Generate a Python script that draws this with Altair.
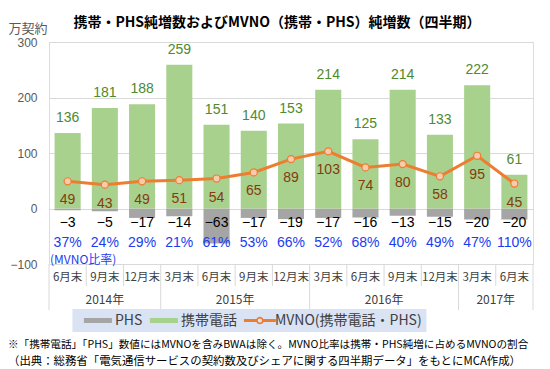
import altair as alt
import pandas as pd

# ---------------- data ----------------
months = ["6月末", "9月末", "12月末", "3月末", "6月末", "9月末", "12月末",
          "3月末", "6月末", "9月末", "12月末", "3月末", "6月末"]
years = ["2014年"] * 3 + ["2015年"] * 4 + ["2016年"] * 4 + ["2017年"] * 2
mobile = [136, 181, 188, 259, 151, 140, 153, 214, 125, 214, 133, 222, 61]
phs = [-3, -5, -17, -14, -63, -17, -19, -17, -16, -13, -15, -20, -20]
mvno = [49, 43, 49, 51, 54, 65, 89, 103, 74, 80, 58, 95, 45]
ratio = ["37%", "24%", "29%", "21%", "61%", "53%", "66%", "52%", "68%",
         "40%", "49%", "47%", "110%"]
y_ticks = [-100, 0, 100, 200, 300]

SER_PHS = "PHS"
SER_MOB = "携帯電話"
SER_MVNO = "MVNO(携帯電話・PHS)"
series_names = [SER_PHS, SER_MOB, SER_MVNO]
series_colors = ["#a5a5a5", "#a9d18e", "#ed7d31"]

title_text = "携帯・PHS純増数およびMVNO（携帯・PHS）純増数（四半期）"
unit_text = "万契約"
ratio_caption = ["(MVNO比率)"]
notes = [
    "※「携帯電話」「PHS」数値にはMVNOを含みBWAは除く。MVNO比率は携帯・PHS純増に占めるMVNOの割合",
    "（出典：総務省「電気通信サービスの契約数及びシェアに関する四半期データ」をもとにMCA作成）",
]

n = len(months)
df = pd.DataFrame({
    "i": list(range(n)), "month": months, "year": years,
    "mob": mobile, "phs": phs, "mvno": mvno, "ratio": ratio,
})

bounds = []
for b in range(n + 1):
    is_year = b == 0 or b == n or years[b] != years[b - 1]
    bounds.append({"b": b, "kind": "year" if is_year else "month"})
bdf = pd.DataFrame(bounds)
note_df = pd.DataFrame({"t": notes, "k": list(range(len(notes)))})
cap_df = pd.DataFrame({"t": ratio_caption})
leg_df = pd.DataFrame({"series": series_names, "v": [0] * len(series_names)})

JP = "Noto Sans CJK JP"
NUM = "Liberation Sans"
GRID = "#d9d9d9"

xs = alt.Scale(domain=[0, n], nice=False, zero=False)
ys = alt.Scale(domain=[y_ticks[0], y_ticks[-1]], nice=False, zero=False)
y_axis = alt.Axis(
    values=y_ticks, grid=True, gridColor=GRID, domain=False, ticks=False,
    labelFont=NUM, labelFontSize=12, labelColor="#595959", labelPadding=12,
    title=unit_text, titleAngle=0, titleAlign="left", titleBaseline="middle",
    titleX=-41, titleY=-14, titleFont=JP, titleFontSize=13,
    titleFontWeight="normal", titleColor="#595959")


def X(f):
    return alt.X(f, type="quantitative", scale=xs, axis=None)


def Y(f):
    return alt.Y(f, type="quantitative", scale=ys, axis=y_axis)


base = alt.Chart(df).transform_calculate(
    x0="datum.i + 0.15", x1="datum.i + 0.85", xc="datum.i + 0.5"
)

# legend symbol shapes (unit = 7px): thick bar, and line with ring marker
rect_path = "M0,-0.36H4V0.36H0Z"
cx, ro, ri, end = 2.286, 0.55, 0.3, 4.57
ring_path = (
    f"M0,-0.2H{cx - ro + 0.05}V0.2H0Z"
    f"M{cx + ro - 0.05},-0.2H{end}V0.2H{cx + ro - 0.05}Z"
    f"M{cx + ro},0A{ro},{ro} 0 1 1 {cx - ro},0A{ro},{ro} 0 1 1 {cx + ro},0Z"
    f"M{cx + ri},0A{ri},{ri} 0 1 0 {cx - ri},0A{ri},{ri} 0 1 0 {cx + ri},0Z"
)
label_expr = (f"datum.label === '{SER_MOB}' ? datum.label + '\u3000\u3000\u3000\u2002' : "
              f"datum.label === '{SER_MVNO}' ? datum.label + '\u3000\u3000\u3000\u2002' : datum.label")
legend = alt.Legend(
    orient="none", legendX=23.4, legendY=267, direction="horizontal",
    title=None, fillColor="#dae3f3", padding=4.5, symbolSize=196,
    labelOffset=24, columnPadding=0, labelFont=JP, labelFontSize=14,
    labelColor="#404040", labelLimit=400, labelExpr=label_expr,
    symbolStrokeWidth=0,
)

bar_phs = base.mark_bar(color=series_colors[0]).encode(
    x=X("x0"), x2="x1", y=Y("phs"), y2=alt.datum(0))
bar_mob = base.mark_bar(color=series_colors[1]).encode(
    x=X("x0"), x2="x1", y=Y("mob"), y2=alt.datum(0))

# legend-only layer (no rows survive the filter; entries come from the explicit domain)
leg_layer = alt.Chart(leg_df).transform_filter("false").mark_point(filled=True, opacity=1).encode(
    x=X("v"), y=Y("v"),
    color=alt.Color("series:N", scale=alt.Scale(domain=series_names, range=series_colors),
                    legend=legend),
    shape=alt.Shape("series:N", scale=alt.Scale(domain=series_names,
                                               range=[rect_path, rect_path, ring_path]),
                    legend=legend),
)

line = base.mark_line(color=series_colors[2], strokeWidth=3).encode(x=X("xc"), y=Y("mvno"))
pts = base.mark_point(shape="circle", filled=True, fill="#f8cbad", stroke=series_colors[2],
                      strokeWidth=1.2, size=50, opacity=1).encode(x=X("xc"), y=Y("mvno"))

mob_lbl = base.mark_text(font=NUM, fontSize=14, color="#4e8a2e", dy=-15).encode(
    x=X("xc"), y=Y("mob"), text=alt.Text("mob:Q"))
mv_lbl = base.mark_text(font=NUM, fontSize=14, color="#843c0c", dy=19).encode(
    x=X("xc"), y=Y("mvno"), text=alt.Text("mvno:Q"))
phs_lbl = base.mark_text(font=NUM, fontSize=14, color="#000000").encode(
    x=X("xc"), y=alt.value(181), text=alt.Text("phs:Q"))
ratio_lbl = base.mark_text(font=NUM, fontSize=14, color="#1a3cf0").encode(
    x=X("xc"), y=alt.value(201), text="ratio:N")
cap = alt.Chart(cap_df).mark_text(font=JP, fontSize=12, color="#1a3cf0", align="left").encode(
    x=alt.value(1), y=alt.value(218), text="t:N")
month_lbl = base.mark_text(font=JP, fontSize=11.5, color="#404040").encode(
    x=X("xc"), y=alt.value(236), text="month:N")
year_lbl = base.transform_aggregate(
    s="min(i)", e="max(i)", groupby=["year"]
).transform_calculate(yc="(datum.s + datum.e + 1) / 2").mark_text(
    font=JP, fontSize=12, color="#404040").encode(
    x=X("yc"), y=alt.value(258), text="year:N")
sep_m = alt.Chart(bdf).transform_filter("datum.kind === 'month'").mark_rule(
    color=GRID, strokeWidth=1).encode(x=X("b"), y=alt.value(222), y2=alt.value(244))
sep_y = alt.Chart(bdf).transform_filter("datum.kind === 'year'").mark_rule(
    color=GRID, strokeWidth=1).encode(x=X("b"), y=alt.value(222), y2=alt.value(268))

note1 = alt.Chart(note_df).transform_filter("datum.k === 0").mark_text(
    font=JP, fontSize=10.6, color="#000000", align="left").encode(
    x=alt.value(-41), y=alt.value(303), text="t:N")
note2 = alt.Chart(note_df).transform_filter("datum.k === 1").mark_text(
    font=JP, fontSize=11.4, color="#000000", align="left").encode(
    x=alt.value(-41), y=alt.value(320), text="t:N")

chart = alt.layer(
    bar_phs, bar_mob, leg_layer, sep_m, sep_y, line, pts, mob_lbl, mv_lbl, phs_lbl,
    ratio_lbl, cap, month_lbl, year_lbl, note1, note2,
).properties(
    width=484, height=222,
    title=alt.TitleParams(text=title_text, font=JP, fontSize=14, fontWeight="bold",
                          color="#000000", anchor="middle", frame="group", dx=-14, dy=12),
    autosize=alt.AutoSizeParams(type="none"),
    padding={"left": 41, "top": 34, "right": 9, "bottom": 105},
).configure_view(stroke=None).configure(background="#ffffff")

chart.save("out.html", embed_options={"renderer": "svg", "actions": False})
